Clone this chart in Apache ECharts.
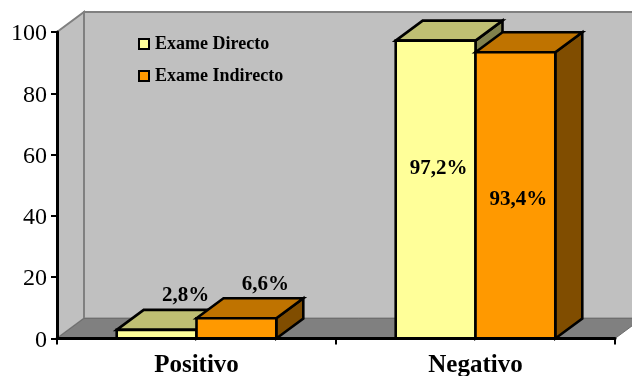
<!DOCTYPE html>
<html>
<head>
<meta charset="utf-8">
<style>html,body{margin:0;padding:0;background:#fff}#chart{width:632px;height:376px}</style>
<script src="https://cdn.jsdelivr.net/npm/echarts@6/dist/echarts.min.js"></script>
</head>
<body>
<div id="chart"></div>
<script>
const categories = ['Positivo', 'Negativo'];
const exameDirecto = [2.8, 97.2];
const exameIndirecto = [6.6, 93.4];
const seriesNames = ['Exame Directo', 'Exame Indirecto'];

const FONT = '"Liberation Serif", "Times New Roman", serif';
const DEPTH_X = 27, DEPTH_Y = -20;
const BAR_SHARE = 0.286;

const palette = [
  { front: '#FFFF99', top: '#BFBF73', side: '#80804D' },
  { front: '#FF9900', top: '#BF7300', side: '#804D00' }
];

// Value-axis height at which the tall bars carry their percentage label.
const insideLabelLevel = { 97.2: 55.4, 93.4: 45.3 };

function poly(points, fill, stroke, lineWidth) {
  return { type: 'polygon', shape: { points }, style: { fill, stroke, lineWidth, lineJoin: 'miter' } };
}

// Back wall, side wall and floor of the 3D box.
function renderBox(params) {
  const c = params.coordSys;
  const l = c.x, r = c.x + c.width, t = c.y, b = c.y + c.height;
  const dx = DEPTH_X, dy = DEPTH_Y;
  return {
    type: 'group',
    children: [
      poly([[l + dx, t + dy], [r + dx, t + dy], [r + dx, b + dy], [l + dx, b + dy]], '#C0C0C0', '#808080', 2),
      poly([[l, t], [l + dx, t + dy], [l + dx, b + dy], [l, b]], '#C0C0C0', '#808080', 2),
      poly([[l, b], [l + dx, b + dy], [r + dx, b + dy], [r, b]], '#808080', '#6E6E6E', 1)
    ]
  };
}

// One extruded column: front, top and side faces plus its percentage label.
function makeBarRenderer(seriesIndex) {
  return function (params, api) {
    const value = api.value(1);
    const centre = api.coord([api.value(0), 0])[0];
    const base = api.coord([api.value(0), 0])[1];
    const top = api.coord([api.value(0), value])[1];
    const w = api.size([1, 0])[0] * BAR_SHARE;
    const x0 = seriesIndex === 0 ? centre - w : centre;
    const x1 = x0 + w;
    const dx = DEPTH_X, dy = DEPTH_Y;
    const col = palette[seriesIndex];
    const tall = insideLabelLevel[value] !== undefined;
    const labelX = tall ? (x0 + x1) / 2 + 3 : (x0 + x1) / 2 + 29;
    const labelY = tall ? api.coord([api.value(0), insideLabelLevel[value]])[1] : top - 34;
    return {
      type: 'group',
      children: [
        poly([[x1, top], [x1 + dx, top + dy], [x1 + dx, base + dy], [x1, base]], col.side, '#000', 2.6),
        poly([[x0, top], [x0 + dx, top + dy], [x1 + dx, top + dy], [x1, top]], col.top, '#000', 2.6),
        poly([[x0, top], [x1, top], [x1, base], [x0, base]], col.front, '#000', 2.6),
        {
          type: 'text',
          z2: 10,
          style: {
            x: labelX, y: labelY,
            text: String(value).replace('.', ',') + '%',
            font: 'bold 21px ' + FONT,
            fill: '#000', align: 'center', verticalAlign: 'middle'
          }
        }
      ]
    };
  };
}

function barSeries(name, values, seriesIndex) {
  return {
    name,
    type: 'custom',
    renderItem: makeBarRenderer(seriesIndex),
    clip: false,
    z: 3 + seriesIndex,
    itemStyle: { color: palette[seriesIndex].front, borderColor: '#000', borderWidth: 2.6 },
    data: values.map((v, i) => [i, v])
  };
}

const chart = echarts.init(document.getElementById('chart'), null, { renderer: 'canvas' });
chart.setOption({
  animation: false,
  backgroundColor: '#fff',
  textStyle: { fontFamily: FONT },
  grid: { left: 57, top: 32, width: 558, height: 306.5, containLabel: false, outerBoundsMode: 'none' },
  legend: {
    data: seriesNames,
    orient: 'vertical',
    left: 133,
    top: 30,
    itemWidth: 10,
    itemHeight: 10,
    itemGap: 14,
    icon: 'rect',
    textStyle: { fontFamily: FONT, fontWeight: 'bold', fontSize: 18, color: '#000', padding: [0, 0, 0, 1] }
  },
  xAxis: {
    type: 'category',
    data: categories,
    boundaryGap: true,
    z: 6,
    axisLine: { lineStyle: { color: '#000', width: 3 } },
    axisTick: { show: true, alignWithLabel: false, length: 6, lineStyle: { color: '#000', width: 2 } },
    axisLabel: { fontFamily: FONT, fontWeight: 'bold', fontSize: 25, color: '#000', margin: 15 }
  },
  yAxis: {
    type: 'value',
    min: 0,
    max: 100,
    interval: 20,
    z: 6,
    splitLine: { show: false },
    axisLine: { show: true, lineStyle: { color: '#000', width: 3 } },
    axisTick: { show: true, length: 6, lineStyle: { color: '#000', width: 2 } },
    axisLabel: { fontFamily: FONT, fontSize: 24, color: '#000', margin: 10, verticalAlign: 'top', lineHeight: 4 }
  },
  series: [
    { type: 'custom', name: 'box', renderItem: renderBox, clip: false, z: 1, silent: true, data: [[0, 0]] },
    barSeries(seriesNames[0], exameDirecto, 0),
    barSeries(seriesNames[1], exameIndirecto, 1)
  ]
});
</script>
</body>
</html>
